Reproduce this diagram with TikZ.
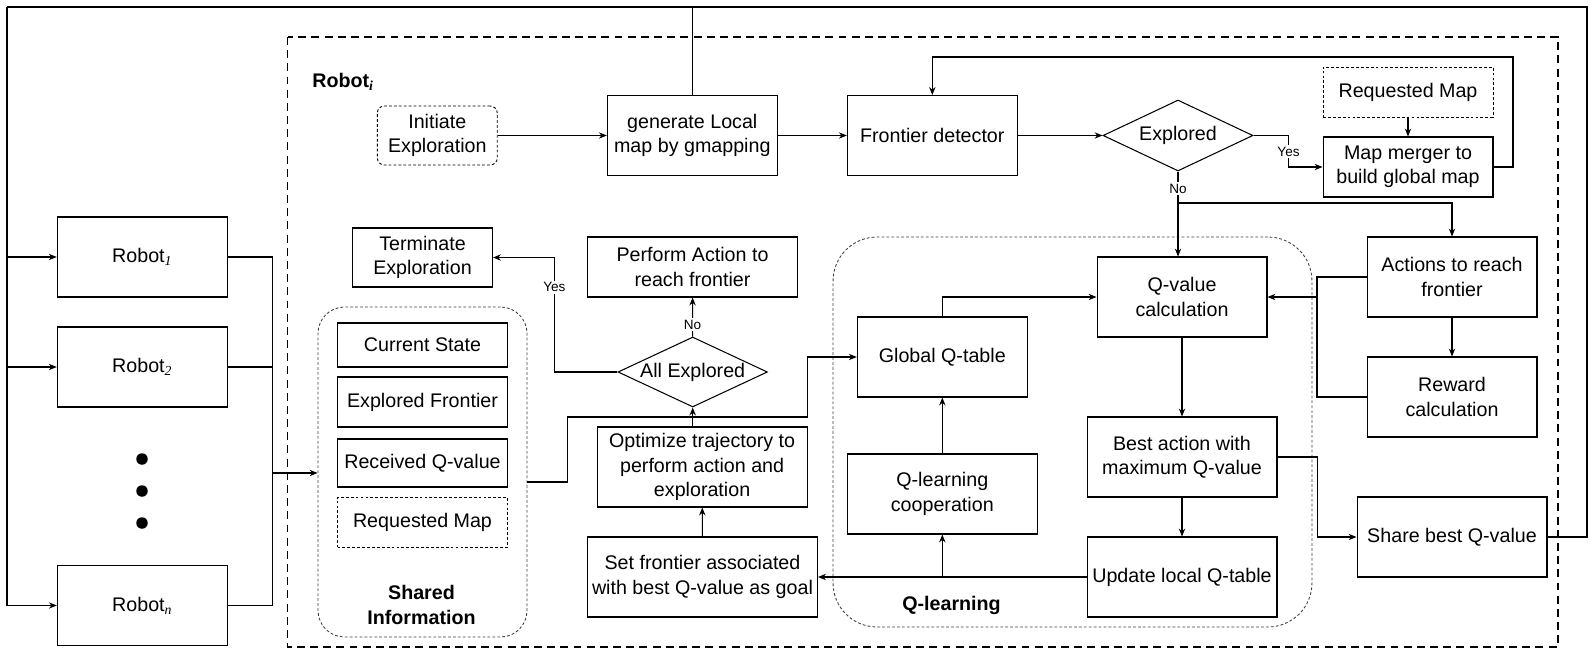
\documentclass[tikz,border=0pt]{standalone}
\usepackage{fontspec}
\setmainfont{Liberation Sans}
\newfontfamily\subfont{Liberation Serif}
\usetikzlibrary{shapes.geometric, arrows.meta}

\newcommand{\figfont}{\fontsize{11.2}{13.9}\selectfont}
\newcommand{\rsub}[1]{\textsubscript{\subfont\itshape #1}}

\begin{document}
\begin{tikzpicture}[x=0.02cm, y=-0.02cm, line width=0.6pt,
    >={Stealth[length=4.5pt, width=3.6pt]},
    font=\figfont,
    block/.style={draw, align=center, inner sep=1pt, minimum width=3.4cm, minimum height=1.6cm},
    dblock/.style={block, line width=0.5pt, dash pattern=on 1.6pt off 1.2pt},
    decision/.style={draw, diamond, aspect=2.1, align=center, inner sep=0pt, minimum width=3cm, minimum height=1.42cm},
    group/.style={draw=black!75, line width=0.5pt, dash pattern=on 1.6pt off 1.2pt, inner sep=0pt},
    lbl/.style={font=\fontsize{7.7}{9}\selectfont, fill=white, inner sep=1pt}]

    \useasboundingbox (0,0) rectangle (1596,649);

    % Robot_i frame
    \draw[line width=1.1pt, dash pattern=on 4.5pt off 3pt] (287.5,37) rectangle (1558,647);
    \node[anchor=west, font=\figfont\bfseries] (roblbl) at (306,82) {Robot\rsub{\bfseries i}};

    % Groups
    \node[group, rounded corners=15pt, minimum width=4.18cm, minimum height=6.6cm] (shinfo) at (422.5,472) {};
    \node[group, rounded corners=25pt, minimum width=9.58cm, minimum height=7.8cm] (qlbox) at (1072.5,432) {};
    \node[font=\figfont\bfseries, align=center] (shlbl) at (421.5,605) {Shared\\Information};
    \node[font=\figfont\bfseries] (qllbl) at (951.5,605) {Q-learning};

    % Top row
    \node[dblock, rounded corners=4pt, minimum width=2.4cm, minimum height=1.18cm] (init) at (437.3,135.5) {Initiate\\Exploration};
    \node[block] (gmap) at (692.3,135.5) {generate Local\\map by gmapping};
    \node[block] (front) at (932.3,135.5) {Frontier detector};
    \node[decision] (expl) at (1178,135.5) {Explored};
    \node[dblock, minimum height=1cm] (reqtop) at (1408,92) {Requested Map};
    \node[block, minimum height=1.2cm] (merge) at (1408,167) {Map merger to\\build global map};

    % Other robots
    \node[block] (rob1) at (142.3,257) {Robot\rsub{1}};
    \node[block] (rob2) at (142.3,367) {Robot\rsub{2}};
    \node[block] (robn) at (142.3,605.5) {Robot\rsub{n}};
    \foreach \y in {459,491,523} {
        \fill (142,\y) circle (0.115cm);
    }

    % Shared information
    \node[block, minimum height=0.88cm] (cur) at (422.5,345) {Current State};
    \node[block, minimum height=1cm] (expf) at (422.5,402) {Explored Frontier};
    \node[block, minimum height=0.96cm] (recv) at (422.5,463) {Received Q-value};
    \node[dblock, minimum height=1cm] (reqm) at (422.5,522) {Requested Map};

    % Middle column
    \node[block, minimum width=2.8cm, minimum height=1.18cm] (term) at (422.5,257.5) {Terminate\\Exploration};
    \node[block, minimum width=4.2cm, minimum height=1.2cm] (perf) at (692.5,267) {Perform Action to\\reach frontier};
    \node[decision, minimum width=2.99cm, minimum height=1.4cm] (allx) at (692.7,372) {All Explored};
    \node[block, minimum width=4.2cm] (opt) at (702.1,467) {Optimize trajectory to\\perform action and\\exploration};
    \node[block, minimum width=4.6cm] (setf) at (702.5,577) {Set frontier associated\\with best Q-value as goal};

    % Q-learning
    \node[block] (glob) at (942.3,357) {Global Q-table};
    \node[block, minimum width=3.8cm] (coop) at (942.3,494) {Q-learning\\cooperation};
    \node[block] (qcal) at (1182,297) {Q-value\\calculation};
    \node[block, minimum width=3.8cm] (best) at (1182,457) {Best action with\\maximum Q-value};
    \node[block, minimum width=3.8cm] (upd) at (1182,577) {Update local Q-table};

    % Right column
    \node[block] (act) at (1452,277) {Actions to reach\\frontier};
    \node[block] (rew) at (1452,397) {Reward\\calculation};
    \node[block, minimum width=3.8cm] (share) at (1452,537) {Share best Q-value};

    % Helper points
    \coordinate (loopL) at (7,7);
    \coordinate (loopR) at (1587,7);
    \coordinate (bus) at (272.5,473);
    \coordinate (mtop) at (1513,57);
    \coordinate (nobr) at (1178,203);
    \coordinate (abus) at (1317,297);

    % Feedback loop to other robots
    \draw (share.east) -| (loopR) -- (loopL);
    \draw[->] (loopL) |- (robn.west);
    \draw[->] (loopL |- rob1.west) -- (rob1.west);
    \draw[->] (loopL |- rob2.west) -- (rob2.west);
    \draw (gmap.north) -- (gmap.north |- loopL);

    % Robots to shared information
    \foreach \r in {rob1, rob2, robn} {
        \draw (\r.east) -| (bus);
    }
    \draw[->] (bus) -- (bus -| shinfo.west);
    \draw[->] ([yshift=-0.2cm]shinfo.east) -- ++(40,0) |- (807.1,417) |- (glob.west);

    % Top row flow
    \draw[->] (init) -- (gmap);
    \draw[->] (gmap) -- (front);
    \draw[->] (front) -- (expl);
    \draw[->] (expl.east) -- ++(35,0) |- node[lbl, pos=0.26] {Yes} (merge.west);
    \draw[->] (reqtop) -- (merge);
    \draw[->] (merge.east) -| (mtop) -| (front.north);
    \draw[->] (expl.south) -- node[lbl, pos=0.2] {No} (expl.south |- qcal.north);
    \draw[->] (nobr) -| (act.north);

    % Actions and reward
    \draw (act.west) -| (abus) |- (rew.west);
    \draw[->] (abus) -- (qcal.east);
    \draw[->] (act) -- (rew);

    % Q-learning flow
    \draw[->] (qcal) -- (best);
    \draw[->] (best) -- (upd);
    \draw[->] (best.east) -- ++(40,0) |- (share.west);
    \draw[->] (upd.west) -- (setf.east);
    \draw[->] (glob.south |- upd.west) -- (coop.south);
    \draw[->] (coop) -- (glob);
    \draw[->] (glob.north) |- (qcal.west);

    % Goal and exploration
    \draw[->] (setf) -- (opt);
    \draw[->] (opt.north -| allx.south) -- (allx.south);
    \draw[->] (allx) -- node[lbl, pos=0.3] {No} (perf);
    \draw[->] (allx.west) -- ++(-63,0) |- node[lbl, pos=0.37] {Yes} (term.east);
\end{tikzpicture}
\end{document}
